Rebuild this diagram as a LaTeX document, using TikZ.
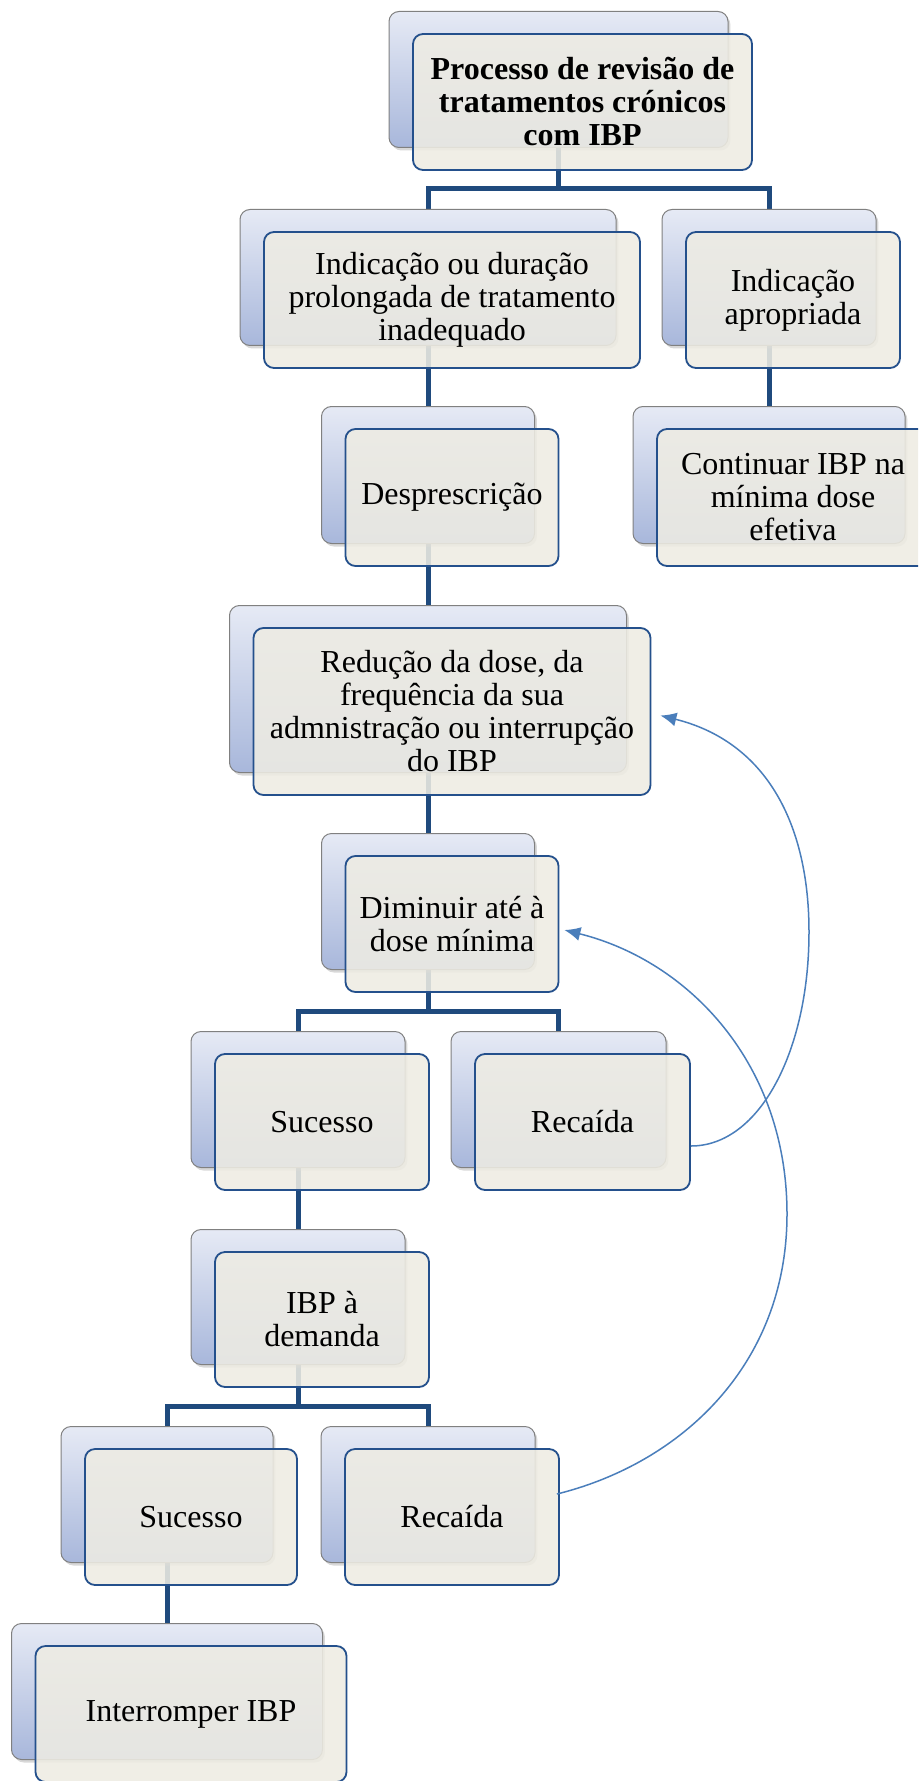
\documentclass[tikz,border=0pt]{standalone}
\usepackage{fontspec}
\setmainfont{Liberation Serif}
\usetikzlibrary{arrows.meta,shadows,backgrounds,calc}
\definecolor{backtop}{HTML}{E6EAF5}
\definecolor{backbot}{HTML}{A8B7DB}
\definecolor{backline}{HTML}{808080}
\definecolor{frontfill}{HTML}{EEECE3}
\definecolor{frontline}{HTML}{24508C}
\definecolor{connline}{HTML}{1F4A7D}
\definecolor{arrowline}{HTML}{4A7EBB}
\tikzset{
 backbox/.style={draw=backline, line width=0.5pt, rounded corners=5pt, top color=backtop, bottom color=backbot, inner sep=0pt, drop shadow={shadow xshift=1.2pt, shadow yshift=-1.5pt, opacity=0.3}},
 frontbox/.style={draw=frontline, line width=0.9pt, rounded corners=5pt, fill=frontfill, fill opacity=0.88, text opacity=1, inner sep=2pt, align=center, font=\fontsize{16pt}{16.5pt}\selectfont},
 conn/.style={draw=connline, line width=2.5pt},
 backarrow/.style={draw=arrowline, line width=0.75pt, -{Latex[length=8pt,width=7pt]}},
}
\newcommand\dbox[6]{%
 \node[backbox, minimum width=#4*0.5pt, minimum height=#5*0.5pt] (#1b) at ({#2-24},{#3-22.5}) {};
 \node[frontbox, minimum width=#4*0.5pt, minimum height=#5*0.5pt] (#1) at (#2,#3) {#6};}
\begin{document}
\begin{tikzpicture}[x=0.5pt,y=-0.5pt]
\clip (0,0) rectangle (918,1781);
\dbox{top}{582.5}{102}{339}{136}{\textbf{Processo de revisão de}\\\textbf{tratamentos crónicos}\\\textbf{com IBP}}
\dbox{ind}{452}{300}{376}{136}{Indicação ou duração\\prolongada de tratamento\\inadequado}
\dbox{apr}{793}{300}{214}{136}{Indicação\\apropriada}
\dbox{desp}{452}{497.5}{213}{137}{Desprescrição}
\dbox{cont}{793}{497.5}{272}{137}{Continuar IBP na\\mínima dose\\efetiva}
\dbox{red}{452}{711.5}{397}{167}{Redução da dose, da\\frequência da sua\\admnistração ou interrupção\\do IBP}
\dbox{dim}{452}{924}{213}{136}{Diminuir até à\\dose mínima}
\dbox{sucA}{322}{1122}{214}{136}{Sucesso}
\dbox{recA}{582.5}{1122}{215}{136}{Recaída}
\dbox{ibp}{322}{1319.5}{214}{135}{IBP à\\demanda}
\dbox{sucB}{191}{1517}{212}{136}{Sucesso}
\dbox{recB}{452}{1517}{214}{136}{Recaída}
\dbox{intr}{191}{1714}{311}{136}{Interromper IBP}
\begin{pgfonlayer}{background}
\fill[white] (0,0) rectangle (918,1781);
\draw[conn] (topb.south) |- ([yshift=10pt]indb.north) -- (indb.north);
\draw[conn] (topb.south) |- ([yshift=10pt]aprb.north) -- (aprb.north);
\draw[conn] (indb.south) |- ([yshift=10pt]despb.north) -- (despb.north);
\draw[conn] (aprb.south) |- ([yshift=10pt]contb.north) -- (contb.north);
\draw[conn] (despb.south) |- ([yshift=10pt]redb.north) -- (redb.north);
\draw[conn] (redb.south) |- ([yshift=10pt]dimb.north) -- (dimb.north);
\draw[conn] (dimb.south) |- ([yshift=10pt]sucAb.north) -- (sucAb.north);
\draw[conn] (dimb.south) |- ([yshift=10pt]recAb.north) -- (recAb.north);
\draw[conn] (sucAb.south) |- ([yshift=10pt]ibpb.north) -- (ibpb.north);
\draw[conn] (ibpb.south) |- ([yshift=10pt]sucBb.north) -- (sucBb.north);
\draw[conn] (ibpb.south) |- ([yshift=10pt]recBb.north) -- (recBb.north);
\draw[conn] (sucBb.south) |- ([yshift=10pt]intrb.north) -- (intrb.north);
\end{pgfonlayer}
\coordinate (a1s) at ([yshift=-12pt]recA.east);
\coordinate (a1e) at ([xshift=4.5pt,yshift=-2pt]red.east);
\coordinate (a2s) at ([xshift=-1.5pt,yshift=11.5pt]recB.east);
\coordinate (a2e) at ([xshift=2.5pt,yshift=-3pt]dim.east);
\draw[backarrow] (a1s) .. controls (760,1146) and (809,1050) .. (809,932)
  .. controls (809,825) and (767,742) .. (a1e);
\draw[backarrow] (a2s) .. controls (682,1463) and (787,1364) .. (787,1214)
  .. controls (787,1064) and (689,961) .. (a2e);
\end{tikzpicture}
\end{document}
